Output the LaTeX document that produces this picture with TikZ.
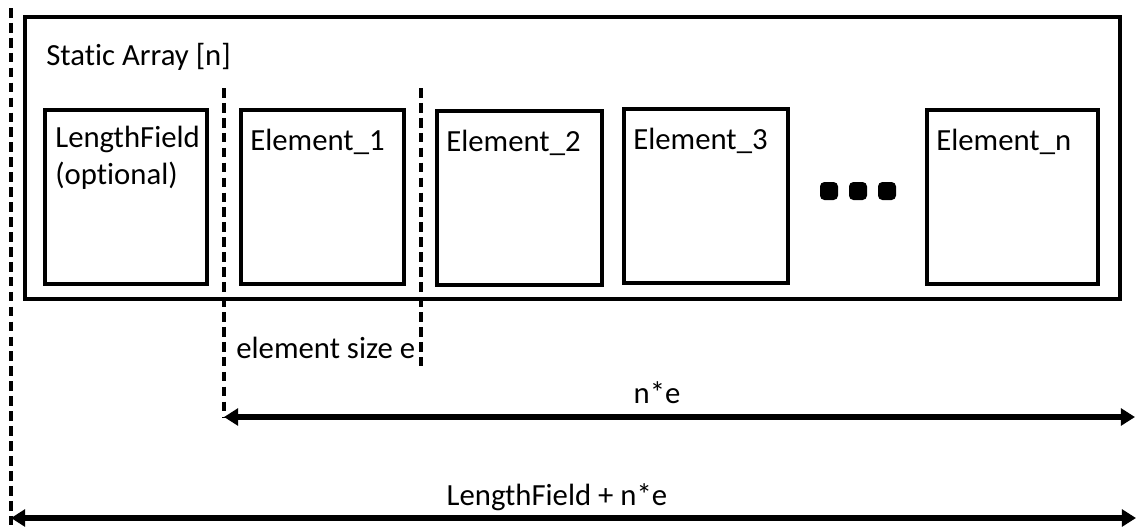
\documentclass[tikz,border=0pt]{standalone}
\usepackage{fontspec}
\setmainfont{Carlito}[Ligatures=NoCommon]
\usetikzlibrary{arrows.meta}
\tikzset{
  box/.style={draw, line width=2.2pt, inner sep=0pt, outer sep=0pt, anchor=north west, minimum height=3.48cm},
  txt/.style={inner sep=0pt, font=\fontsize{17.5}{20.5}\selectfont},
  guide/.style={line width=1.8pt, dash pattern=on 5.5pt off 3pt},
  span/.style={line width=3.2pt, {Triangle[length=8pt,width=9.5pt]}-{Triangle[length=8pt,width=9.5pt]}},
  blob/.style={fill, rounded corners=2.5pt, minimum size=0.36cm, inner sep=0pt}
}
\begin{document}
\begin{tikzpicture}[x=0.02cm, y=-0.02cm]
\useasboundingbox (0,0) rectangle (1137,529);
% the array and its fields
\node[box, minimum width=21.9cm, minimum height=5.64cm] (arr) at (25,17) {};
\node[txt, anchor=base west] (arr-t) at ([shift={(21,48)}]arr.north west) {Static Array [n]};
\node[box, minimum width=3.24cm] (lf) at (45,110) {};
\node[txt, anchor=base west, align=left] (lf-t) at ([shift={(10,74)}]lf.north west) {LengthField\\(optional)};
\foreach \n/\x/\y/\w/\t in {e1/241/110/3.26/1, e2/437/111/3.3/2, e3/624/109/3.28/3, en/927/110/3.42/n}{
  \node[box, minimum width=\w cm] (\n) at (\x,\y) {};
  \node[txt, anchor=base west] (\n-t) at ([shift={(9,40)}]\n.north west) {Element\_\t};
}
\foreach \i/\x in {1/829, 2/858, 3/887}
  \node[blob] (dot\i) at (\x,191) {};
% guide lines
\coordinate (g-top) at (11,8);
\coordinate (g-bot) at (11,529);
\coordinate (d1-top) at (224,88);
\coordinate (d1-bot) at (224,417);
\coordinate (d2-top) at (421,88);
\coordinate (d2-bot) at (421,368);
\draw[guide] (g-top) -- (g-bot);
\draw[guide] (d1-top) -- (d1-bot);
\draw[guide] (d2-top) -- (d2-bot);
\node[txt, anchor=base west] (es) at (236,358) {element size e};
% sizes
\coordinate (ne-end) at (1135,417);
\coordinate (all-start) at (11,518);
\coordinate (all-end) at (1136,518);
\draw[span] (d1-bot) -- (ne-end);
\draw[span] (all-start) -- (all-end);
\node[txt, anchor=base] (ne) at (657,403) {n*e};
\node[txt, anchor=base] (all) at (557,505) {LengthField + n*e};
\end{tikzpicture}
\end{document}
